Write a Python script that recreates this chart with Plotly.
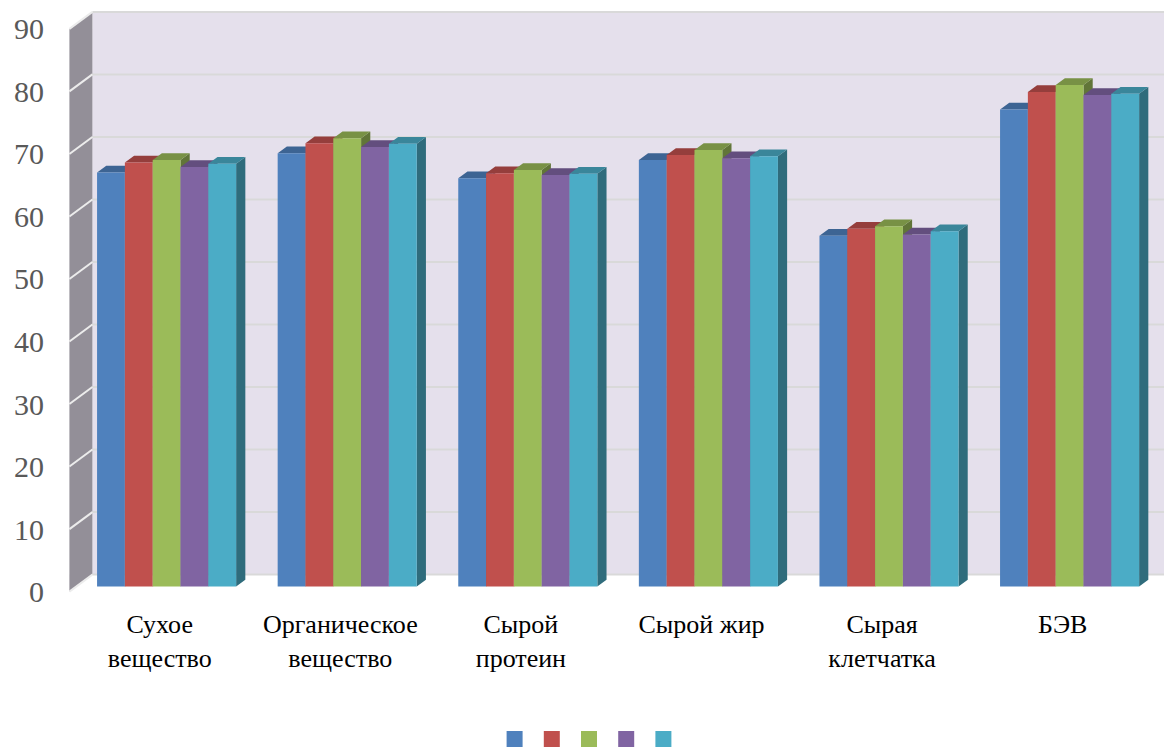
import plotly.graph_objects as go

# Categories and values of the five series
categories = ["Сухое<br>вещество", "Органическое<br>вещество", "Сырой<br>протеин",
              "Сырой жир", "Сырая<br>клетчатка", "БЭВ"]
series_1 = [66.2, 69.3, 65.3, 68.2, 56.1, 76.3]
series_2 = [67.8, 70.9, 66.1, 69.0, 57.2, 79.1]
series_3 = [68.2, 71.7, 66.6, 69.8, 57.6, 80.2]
series_4 = [67.1, 70.3, 65.8, 68.5, 56.3, 78.6]
series_5 = [67.6, 70.8, 66.0, 68.8, 56.8, 78.8]
series_values = [series_1, series_2, series_3, series_4, series_5]
colors = ["#4F81BD", "#C0504D", "#9BBB59", "#8064A2", "#4BACC6"]
y_ticks = list(range(0, 100, 10))

SERIF = "Times New Roman, Liberation Serif, serif"

# Oblique "3-D" projection: moving through the full floor depth shifts a
# point by DX along x (category units) and DY along y (value units).
DX = 0.1274
DY = 2.72
BAR_W = 0.154
GROUP_W = BAR_W * len(series_values)
BAR_FRONT = 0.3      # depth of the bar fronts (fraction of floor depth)
BAR_DEPTH = 0.4      # thickness of the bars (fraction of floor depth)
X_MIN, X_MAX = -0.5, len(categories) - 0.5
Y_MAX = 90

# pixel layout of the figure
W, H = 1164, 747
M_L, M_T, M_B = 50, 7, 7
PLOT_H = H - M_T - M_B
FLOOR_PX = 601          # bottom of the main chart area
KEYS_PX = 739           # centre line of the series swatches


def shade(hex_color, k):
    r, g, b = (int(hex_color[i:i + 2], 16) for i in (1, 3, 5))
    return "rgb({},{},{})".format(int(r * k), int(g * k), int(b * k))


fig = go.Figure()

ddx, ddy = BAR_DEPTH * DX, BAR_DEPTH * DY
for k, (vals, col) in enumerate(zip(series_values, colors)):
    fx, fy, tx, ty, sx, sy = [], [], [], [], [], []
    for i, v in enumerate(vals):
        xl = i - GROUP_W / 2 + k * BAR_W + BAR_FRONT * DX
        xr = xl + BAR_W
        b = BAR_FRONT * DY
        t = b + v
        fx += [xl, xr, xr, xl, xl, None]
        fy += [b, b, t, t, b, None]
        tx += [xl, xr, xr + ddx, xl + ddx, xl, None]
        ty += [t, t, t + ddy, t + ddy, t, None]
        sx += [xr, xr + ddx, xr + ddx, xr, xr, None]
        sy += [b, b + ddy, t + ddy, t, b, None]
    for xs, ys, c in ((sx, sy, shade(col, 0.63)), (tx, ty, shade(col, 0.78)), (fx, fy, col)):
        fig.add_trace(go.Scatter(x=xs, y=ys, mode="lines", fill="toself",
                                 fillcolor=c, line=dict(width=0, color=c),
                                 hoverinfo="skip", showlegend=False))

# legend keys (series swatches without names) in a strip under the chart
fig.add_trace(go.Scatter(x=list(range(len(colors))), y=[0] * len(colors),
                         mode="markers", xaxis="x2", yaxis="y2", cliponaxis=False,
                         marker=dict(symbol="square", size=16, color=colors),
                         hoverinfo="skip", showlegend=False))

shapes = []
# back wall
shapes.append(dict(type="rect", xref="x", yref="y", layer="below",
                   x0=X_MIN + DX, x1=X_MAX + DX, y0=DY, y1=Y_MAX + DY,
                   fillcolor="#E5E0EC", line=dict(width=0)))
# left side wall
shapes.append(dict(type="path", xref="x", yref="y", layer="below",
                   path="M {a},{b} L {c},{d} L {c},{e} L {a},{f} Z".format(
                       a=X_MIN, b=0, c=X_MIN + DX, d=DY, e=Y_MAX + DY, f=Y_MAX),
                   fillcolor="#938F98", line=dict(width=0)))
# gridlines on back wall and left wall
for v in y_ticks:
    shapes.append(dict(type="line", xref="x", yref="y", layer="below",
                       x0=X_MIN + DX, x1=X_MAX + DX, y0=v + DY, y1=v + DY,
                       line=dict(color="#D9D9D9", width=2)))
    shapes.append(dict(type="line", xref="x", yref="y", layer="below",
                       x0=X_MIN, x1=X_MIN + DX, y0=v, y1=v + DY,
                       line=dict(color="#ECECEC", width=2)))

bottom_px = H - M_B
main_lo = (bottom_px - FLOOR_PX) / PLOT_H
keys_hi = 2 * (bottom_px - KEYS_PX) / PLOT_H

fig.update_layout(
    width=W, height=H,
    margin=dict(l=M_L, r=0, t=M_T, b=M_B),
    paper_bgcolor="white", plot_bgcolor="white",
    shapes=shapes,
    showlegend=False,
    xaxis=dict(range=[-0.6074, 5.561], showgrid=False, zeroline=False,
               showline=False, ticks="", tickvals=list(range(len(categories))),
               ticktext=categories, ticklabelstandoff=5,
               tickfont=dict(family=SERIF, size=26, color="black")),
    yaxis=dict(range=[-1.5, 93.5], domain=[main_lo, 1], showgrid=False,
               zeroline=False, showline=False, ticks="", tickvals=y_ticks,
               ticklabelstandoff=5,
               tickfont=dict(family=SERIF, size=30, color="#595959")),
    xaxis2=dict(domain=[(496 - M_L) / (W - M_L), (682 - M_L) / (W - M_L)],
                range=[-0.5, 4.5], anchor="y2", visible=False),
    yaxis2=dict(domain=[0, keys_hi], range=[-1, 1], anchor="x2", visible=False),
)

fig.write_html("out.html")
